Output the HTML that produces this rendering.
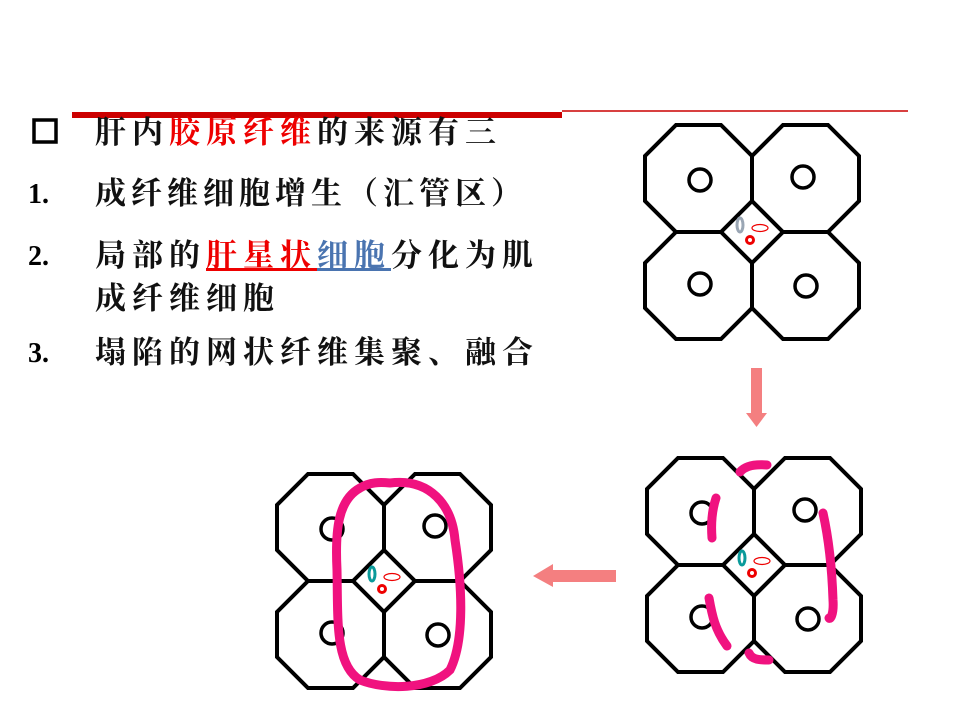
<!DOCTYPE html>
<html><head><meta charset="utf-8"><style>
html,body{margin:0;padding:0;background:#fff;}
body{width:960px;height:720px;position:relative;overflow:hidden;}
.t{position:absolute;font-family:"Liberation Serif","Noto Serif CJK SC",serif;font-weight:bold;font-size:31px;line-height:32px;letter-spacing:6px;color:#111;white-space:nowrap;}
.n{position:absolute;font-family:"Liberation Serif",serif;font-weight:bold;font-size:28px;line-height:32px;}
.r{color:#e00;}
.b{color:#4a74b0;}
</style></head><body>
<svg width="960" height="720" style="position:absolute;left:0;top:0">
<rect x="72" y="112" width="490" height="6" fill="#c00"/>
<line x1="562" y1="111" x2="908" y2="111" stroke="#c00" stroke-width="1.5"/>
<rect x="34" y="120" width="22" height="22" fill="none" stroke="#000" stroke-width="3.5"/>
<polygon points="751,368 762,368 762,413 767,413 756.5,427 746,413 751,413" fill="#f47f80"/>
<polygon points="616,570 616,582 553,582 553,587 533,576 553,564 553,570" fill="#f47f80"/>
<defs>
<g id="oct"><polygon points="31,0 76,0 107,31 107,76 76,107 31,107 0,76 0,31" fill="none" stroke="#000" stroke-width="4" stroke-linejoin="miter"/></g>
<g id="grid">
<use href="#oct" x="0" y="0"/><use href="#oct" x="107" y="0"/>
<use href="#oct" x="0" y="107"/><use href="#oct" x="107" y="107"/>
<circle cx="55" cy="55" r="11" fill="none" stroke="#000" stroke-width="3.5"/>
<circle cx="158" cy="52" r="11" fill="none" stroke="#000" stroke-width="3.5"/>
<circle cx="55" cy="159" r="11" fill="none" stroke="#000" stroke-width="3.5"/>
<circle cx="161" cy="161" r="11" fill="none" stroke="#000" stroke-width="3.5"/>
<circle cx="105" cy="115" r="3.5" fill="none" stroke="#e00" stroke-width="3"/>
<ellipse cx="115" cy="103" rx="8" ry="3.5" fill="none" stroke="#e00" stroke-width="1.2"/>
</g>
</defs>
<g transform="translate(645,125)"><use href="#grid"/><ellipse cx="95" cy="100" rx="3" ry="7" fill="none" stroke="#9aa6b4" stroke-width="3"/></g>
<g transform="translate(277,474)"><use href="#grid"/><ellipse cx="95" cy="100" rx="3" ry="7" fill="none" stroke="#0a9a9a" stroke-width="3"/></g>
<g transform="translate(647,458)"><use href="#grid"/><ellipse cx="95" cy="100" rx="3" ry="7" fill="none" stroke="#0a9a9a" stroke-width="3"/></g>
<g fill="none" stroke="#f0127f" stroke-width="9" stroke-linecap="round">
<path d="M390,483 C430,478 452,505 455,540 C462,585 465,640 450,670 C430,690 385,690 360,680 C335,665 338,620 337,570 C335,530 338,500 360,488 C370,482 380,482 390,483 Z"/>
<path d="M740,472 C745,466 755,464 767,465"/>
<path d="M716,498 C712,510 711,525 712,538"/>
<path d="M823,513 C829,540 832,570 833,600 C834,615 830,620 829,618"/>
<path d="M709,598 C712,615 715,630 727,646"/>
<path d="M749,653 C752,660 760,660 769,660"/>
</g>
</svg>
<div class="t" style="left:95px;top:117px">肝内<span class="r">胶原纤维</span>的来源有三</div>
<div class="n" style="left:28px;top:179px">1.</div>
<div class="t" style="left:95px;top:178px;letter-spacing:5px">成纤维细胞增生（汇管区）</div>
<div class="n" style="left:28px;top:241px">2.</div>
<div class="t" style="left:95px;top:240px">局部的<span class="r" style="text-decoration:underline">肝星状</span><span class="b" style="text-decoration:underline">细胞</span>分化为肌</div>
<div class="t" style="left:95px;top:283px">成纤维细胞</div>
<div class="n" style="left:28px;top:338px">3.</div>
<div class="t" style="left:95px;top:337px">塌陷的网状纤维集聚、融合</div>
</body></html>
